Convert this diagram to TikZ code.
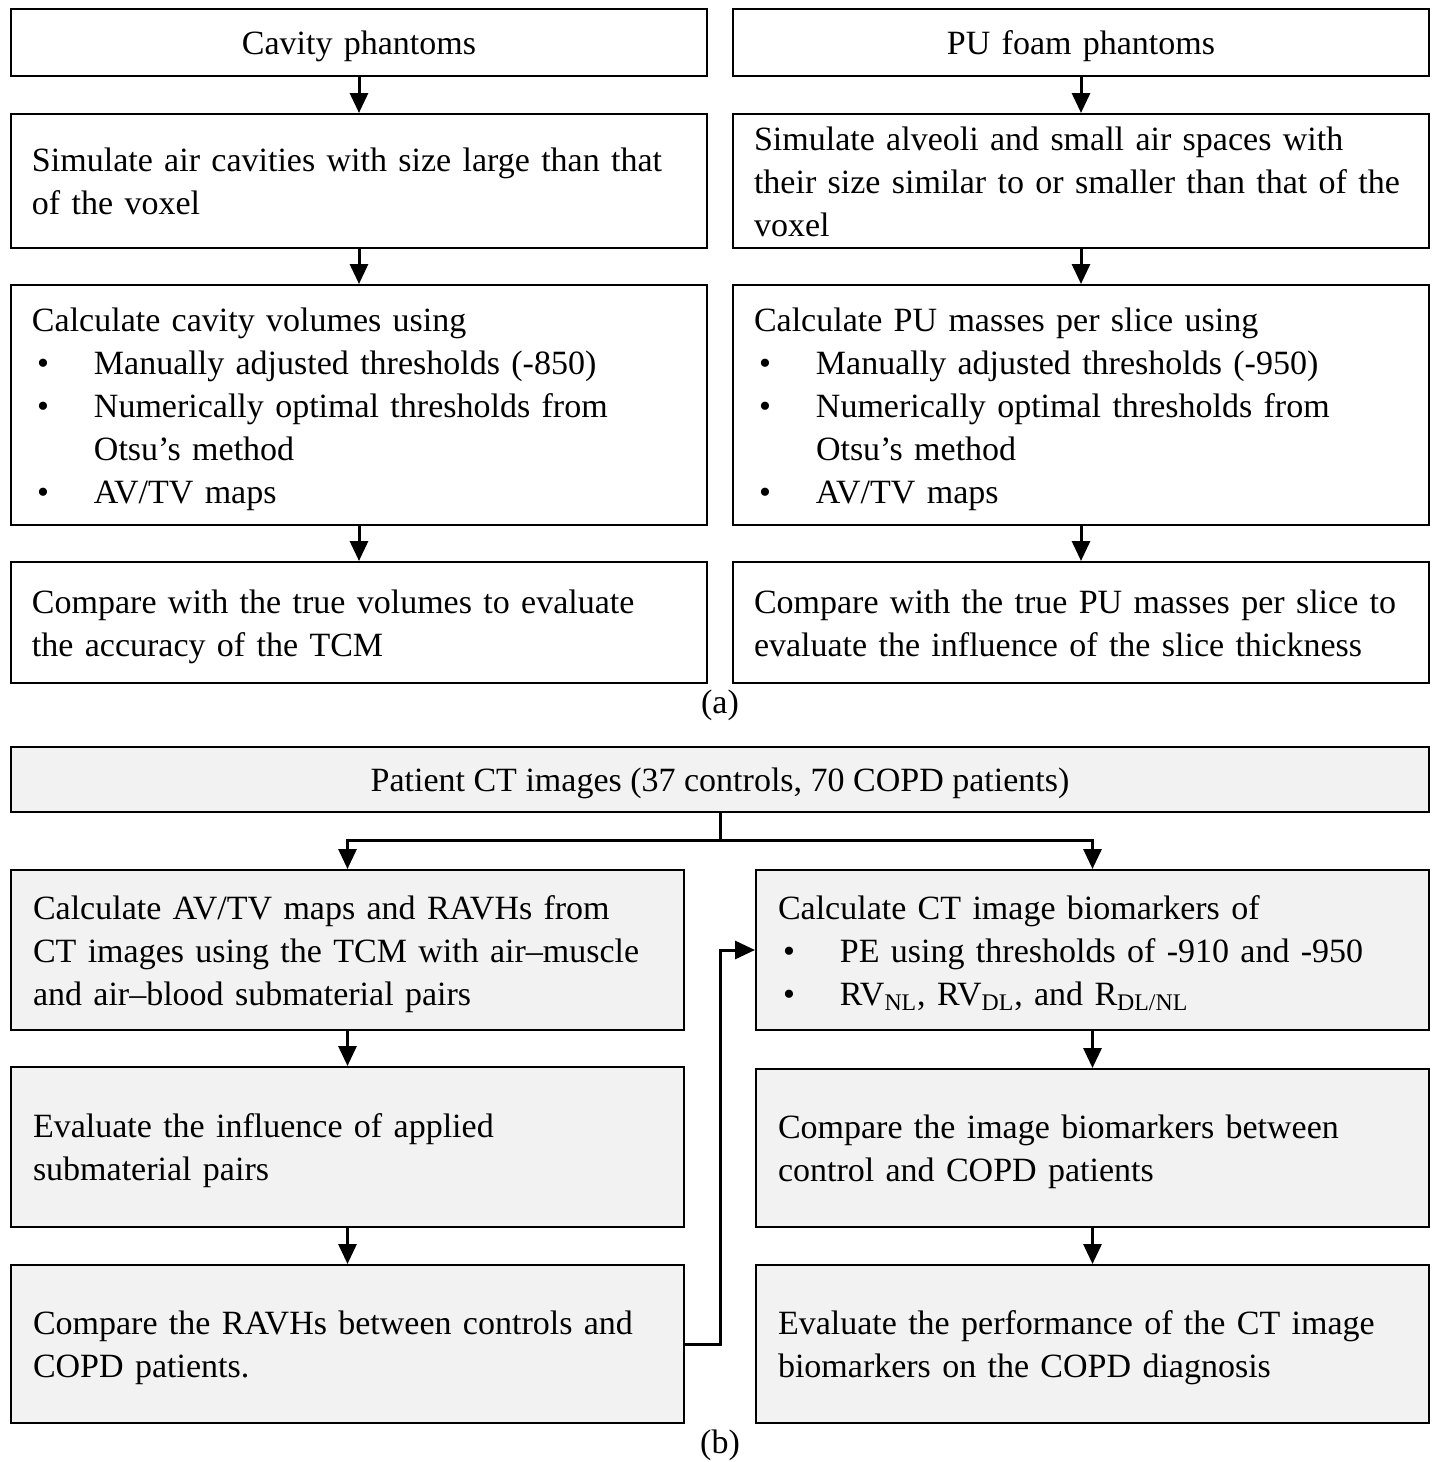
\documentclass[tikz,border=0pt]{standalone}
\usepackage{fontspec}
\setmainfont{Liberation Serif}
\usetikzlibrary{arrows.meta}
\definecolor{boxgray}{HTML}{F2F2F2}
\newcommand{\bul}{\makebox[31pt][l]{\hspace{2.5pt}\textbullet}}
\newcommand{\ind}{\hspace*{31pt}}

\begin{document}
\begin{tikzpicture}[x=0.5pt, y=-0.5pt,
    box/.style={draw, line width=1pt, inner xsep=10.5pt, inner ysep=0pt,
        font=\fontsize{17}{21.5}\selectfont,
        execute at begin node={\rule{0pt}{17pt}},
        execute at end node={\rule[-5pt]{0pt}{0pt}}},
    colA/.style={box, text width=327pt, align=left},
    titleA/.style={box, text width=327pt, align=center},
    colB/.style={box, fill=boxgray, inner xsep=11pt, text width=314.5pt, align=left},
    caption/.style={font=\fontsize{17}{21.5}\selectfont, inner sep=0pt},
    arr/.style={line width=1.5pt, -{Triangle[length=10pt,width=9pt]}},
    link/.style={line width=1.5pt}
]
\useasboundingbox (0,0) rectangle (1432,1462);

\node[titleA, minimum height=33.5pt] (cav)  at (359,42.5)  {Cavity phantoms};
\node[titleA, minimum height=33.5pt] (foam) at (1081,42.5) {PU foam phantoms};

\node[colA, minimum height=67pt] (cavsim)  at (359,181)  {Simulate air cavities with size large than that\\of the voxel};
\node[colA, minimum height=67pt] (foamsim) at (1081,181) {Simulate alveoli and small air spaces with\\their size similar to or smaller than that of the\\voxel};

\node[colA, minimum height=120pt] (cavcalc) at (359,405) {Calculate cavity volumes using\\
    \bul Manually adjusted thresholds (-850)\\
    \bul Numerically optimal thresholds from\\
    \ind Otsu’s method\\
    \bul AV/TV maps};
\node[colA, minimum height=120pt] (foamcalc) at (1081,405) {Calculate PU masses per slice using\\
    \bul Manually adjusted thresholds (-950)\\
    \bul Numerically optimal thresholds from\\
    \ind Otsu’s method\\
    \bul AV/TV maps};

\node[colA, minimum height=60.5pt] (cavcmp)  at (359,622.5)  {Compare with the true volumes to evaluate\\the accuracy of the TCM};
\node[colA, minimum height=60.5pt] (foamcmp) at (1081,622.5) {Compare with the true PU masses per slice to\\evaluate the influence of the slice thickness};

\node[caption] (capa) at (720,705) {(a)};

\draw[arr] (cav) -- (cavsim);
\draw[arr] (cavsim) -- (cavcalc);
\draw[arr] (cavcalc) -- (cavcmp);
\draw[arr] (foam) -- (foamsim);
\draw[arr] (foamsim) -- (foamcalc);
\draw[arr] (foamcalc) -- (foamcmp);

\node[box, fill=boxgray, minimum width=709pt, minimum height=32.5pt] (patient) at (720,779.5) {Patient CT images (37 controls, 70 COPD patients)};

\node[colB, minimum height=80pt] (tcm) at (347.5,950) {Calculate AV/TV maps and RAVHs from\\CT images using the TCM with air–muscle\\and air–blood submaterial pairs};
\node[colB, minimum height=80pt] (bio) at (1092.5,950) {Calculate CT image biomarkers of\\
    \bul PE using thresholds of -910 and -950\\
    \bul RV\textsubscript{NL}, RV\textsubscript{DL}, and R\textsubscript{DL/NL}};

\node[colB, minimum height=80pt] (infl)   at (347.5,1147)  {Evaluate the influence of applied\\submaterial pairs};
\node[colB, minimum height=79pt] (cmpbio) at (1092.5,1148) {Compare the image biomarkers between\\control and COPD patients};

\node[colB, minimum height=79pt] (ravh) at (347.5,1344)  {Compare the RAVHs between controls and\\COPD patients.};
\node[colB, minimum height=79pt] (perf) at (1092.5,1344) {Evaluate the performance of the CT image\\biomarkers on the COPD diagnosis};

\node[caption] (capb) at (720,1445) {(b)};

\coordinate (split) at (720,840);
\coordinate (bend) at (720,1344);

\draw[link] (patient.south) -- (split);
\draw[arr] (split) -| (tcm.north);
\draw[arr] (split) -| (bio.north);
\draw[arr] (tcm) -- (infl);
\draw[arr] (infl) -- (ravh);
\draw[arr] (bio) -- (cmpbio);
\draw[arr] (cmpbio) -- (perf);
\draw[arr] (ravh.east) -- (bend) |- (bio.west);

\end{tikzpicture}
\end{document}
